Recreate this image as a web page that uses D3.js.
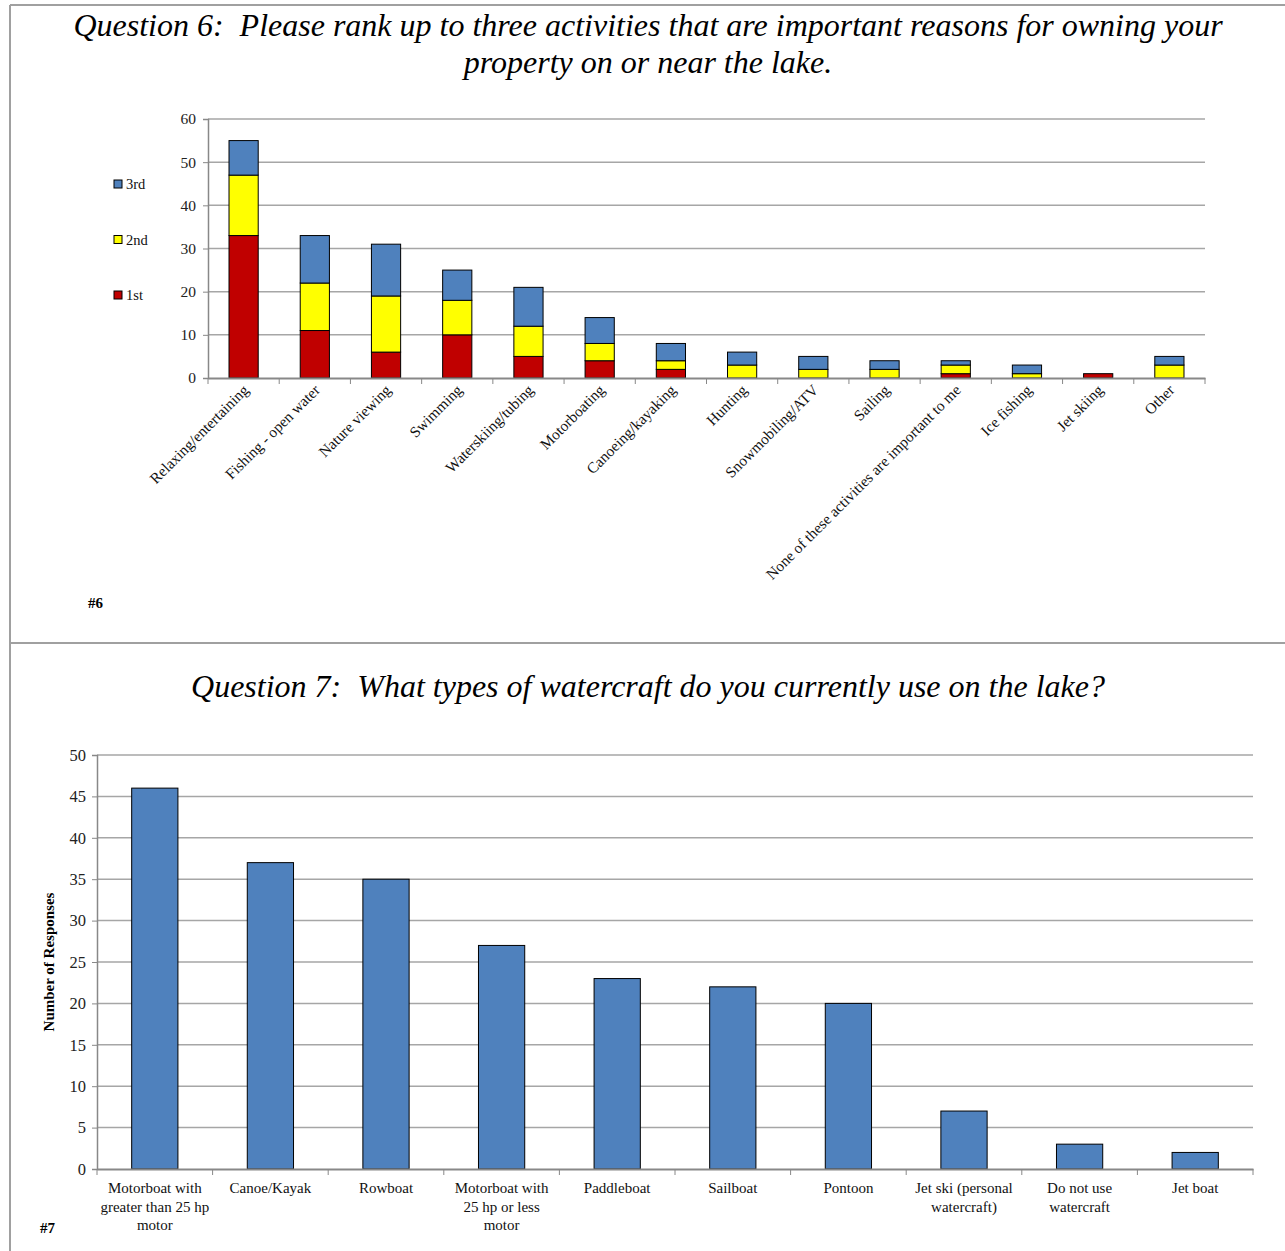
<!DOCTYPE html>
<html>
<head>
<meta charset="utf-8">
<script src="https://cdn.jsdelivr.net/npm/d3@7"></script>
<style>
  body { margin: 0; background: #fff; }
  svg text { font-family: "Liberation Serif", "Times New Roman", serif; white-space: pre; }
</style>
</head>
<body>
<svg id="chart" width="1285" height="1251"></svg>
<script>
// Question 6 - ranked activities (stacked)
const activities = ["Relaxing/entertaining", "Fishing - open water", "Nature viewing", "Swimming",
  "Waterskiing/tubing", "Motorboating", "Canoeing/kayaking", "Hunting", "Snowmobiling/ATV",
  "Sailing", "None of these activities are important to me", "Ice fishing", "Jet skiing", "Other"];
const first = [33, 11, 6, 10, 5, 4, 2, 0, 0, 0, 1, 0, 1, 0];
const second = [14, 11, 13, 8, 7, 4, 2, 3, 2, 2, 2, 1, 0, 3];
const third = [8, 11, 12, 7, 9, 6, 4, 3, 3, 2, 1, 2, 0, 2];
const rankNames = ["1st", "2nd", "3rd"];
const q6Ticks = [0, 10, 20, 30, 40, 50, 60];

// Question 7 - watercraft
const boats = ["Motorboat with\ngreater than 25 hp\nmotor", "Canoe/Kayak", "Rowboat",
  "Motorboat with\n25 hp or less\nmotor", "Paddleboat", "Sailboat", "Pontoon",
  "Jet ski (personal\nwatercraft)", "Do not use\nwatercraft", "Jet boat"];
const boatCounts = [46, 37, 35, 27, 23, 22, 20, 7, 3, 2];
const q7Ticks = [0, 5, 10, 15, 20, 25, 30, 35, 40, 45, 50];

const rankColors = { "1st": "#c00000", "2nd": "#ffff00", "3rd": "#4f81bd" };
const gridColor = "#a6a6a6";

const svg = d3.select("#chart");

// frame lines
svg.append("line").attr("x1", 10).attr("x2", 1285).attr("y1", 5).attr("y2", 5)
  .attr("stroke", "#a0a0a0").attr("stroke-width", 2);
svg.append("line").attr("x1", 10).attr("x2", 10).attr("y1", 5).attr("y2", 1251)
  .attr("stroke", "#a0a0a0").attr("stroke-width", 2);
svg.append("line").attr("x1", 10).attr("x2", 1285).attr("y1", 643).attr("y2", 643)
  .attr("stroke", "#a0a0a0").attr("stroke-width", 2);

// ---------- chart 6 ----------
svg.append("text").attr("x", 648).attr("y", 36).attr("text-anchor", "middle")
  .attr("font-size", 32).attr("font-style", "italic")
  .text("Question 6:  Please rank up to three activities that are important reasons for owning your");
svg.append("text").attr("x", 648).attr("y", 73).attr("text-anchor", "middle")
  .attr("font-size", 32).attr("font-style", "italic")
  .text("property on or near the lake.");

const x6 = d3.scaleBand().domain(activities).range([208, 1205]);
const y6 = d3.scaleLinear().domain([0, 60]).range([378, 119]);

const g6 = svg.append("g");
g6.selectAll(".grid6").data(q6Ticks.slice(1)).enter().append("line")
  .attr("x1", 208).attr("x2", 1205)
  .attr("y1", d => y6(d)).attr("y2", d => y6(d))
  .attr("stroke", gridColor).attr("stroke-width", 1.5);

const stackData = activities.map((a, i) => ({ name: a, "1st": first[i], "2nd": second[i], "3rd": third[i] }));
const series = d3.stack().keys(rankNames)(stackData);
const bw6 = x6.bandwidth() * 0.41;
g6.selectAll(".layer").data(series).enter().append("g")
  .attr("fill", d => rankColors[d.key])
  .selectAll("rect").data(d => d.filter(p => p[1] > p[0])).enter().append("rect")
  .attr("x", d => x6(d.data.name) + (x6.bandwidth() - bw6) / 2)
  .attr("width", bw6)
  .attr("y", d => y6(d[1]))
  .attr("height", d => y6(d[0]) - y6(d[1]))
  .attr("stroke", "#000").attr("stroke-width", 1);

const yAxis6 = g6.append("g").attr("transform", "translate(208,0)")
  .call(d3.axisLeft(y6).tickValues(q6Ticks).tickSize(5).tickPadding(7));
yAxis6.select(".domain").attr("stroke", "#888").attr("stroke-width", 1.5);
yAxis6.selectAll(".tick line").attr("stroke", "#888");
yAxis6.selectAll("text").attr("font-family", "Liberation Serif").attr("font-size", 15.5).attr("fill", "#222");

const xAxis6 = g6.append("g").attr("transform", "translate(0,378)")
  .call(d3.axisBottom(x6).tickSize(0).tickFormat(""));
xAxis6.select(".domain").attr("stroke", "#888").attr("stroke-width", 2);
g6.selectAll(".xtick6").data(activities.concat([null])).enter().append("line")
  .attr("x1", (d, i) => i < activities.length ? x6(d) : x6.range()[1])
  .attr("x2", (d, i) => i < activities.length ? x6(d) : x6.range()[1])
  .attr("y1", 378).attr("y2", 384).attr("stroke", "#888");
g6.selectAll(".xlab6").data(activities).enter().append("text")
  .attr("transform", d => `translate(${x6(d) + x6.bandwidth() / 2 + 6},${391}) rotate(-45)`)
  .attr("text-anchor", "end").attr("font-size", 15.3).attr("fill", "#111")
  .text(d => d);

// legend
const legend = g6.selectAll(".leg").data(rankNames.slice().reverse()).enter().append("g")
  .attr("transform", (d, i) => `translate(114,${180 + i * 55.5})`);
legend.append("rect").attr("width", 8).attr("height", 8)
  .attr("fill", d => rankColors[d]).attr("stroke", "#000").attr("stroke-width", 1);
legend.append("text").attr("x", 12).attr("y", 9).attr("font-size", 14.5).attr("fill", "#111").text(d => d);

svg.append("text").attr("x", 88).attr("y", 608).attr("font-size", 15).attr("font-weight", "bold").text("#6");

// ---------- chart 7 ----------
svg.append("text").attr("x", 648).attr("y", 697).attr("text-anchor", "middle")
  .attr("font-size", 32).attr("font-style", "italic")
  .text("Question 7:  What types of watercraft do you currently use on the lake?");

const x7 = d3.scaleBand().domain(boats).range([97, 1253]);
const y7 = d3.scaleLinear().domain([0, 50]).range([1169, 755]);
const g7 = svg.append("g");

g7.selectAll(".grid7").data(q7Ticks.slice(1)).enter().append("line")
  .attr("x1", 97).attr("x2", 1253)
  .attr("y1", d => y7(d)).attr("y2", d => y7(d))
  .attr("stroke", gridColor).attr("stroke-width", 1.5);

const bw7 = x7.bandwidth() * 0.4;
g7.selectAll(".bar7").data(boats).enter().append("rect")
  .attr("x", d => x7(d) + (x7.bandwidth() - bw7) / 2)
  .attr("width", bw7)
  .attr("y", (d, i) => y7(boatCounts[i]))
  .attr("height", (d, i) => y7(0) - y7(boatCounts[i]))
  .attr("fill", "#4f81bd").attr("stroke", "#000").attr("stroke-width", 1);

const yAxis7 = g7.append("g").attr("transform", "translate(97,0)")
  .call(d3.axisLeft(y7).tickValues(q7Ticks).tickSize(5).tickPadding(6));
yAxis7.select(".domain").attr("stroke", "#888").attr("stroke-width", 1.5);
yAxis7.selectAll(".tick line").attr("stroke", "#888");
yAxis7.selectAll("text").attr("font-family", "Liberation Serif").attr("font-size", 16.5).attr("fill", "#222");

const xAxis7 = g7.append("g").attr("transform", "translate(0,1169)")
  .call(d3.axisBottom(x7).tickSize(0).tickFormat(""));
xAxis7.select(".domain").attr("stroke", "#888").attr("stroke-width", 2);
g7.selectAll(".xtick7").data(boats.concat([null])).enter().append("line")
  .attr("x1", (d, i) => i < boats.length ? x7(d) : x7.range()[1])
  .attr("x2", (d, i) => i < boats.length ? x7(d) : x7.range()[1])
  .attr("y1", 1169).attr("y2", 1175).attr("stroke", "#888");

const lab7 = g7.selectAll(".xlab7").data(boats).enter().append("text")
  .attr("text-anchor", "middle").attr("font-size", 15).attr("fill", "#111");
lab7.selectAll("tspan").data(d => d.split("\n").map(t => ({ t, c: d }))).enter().append("tspan")
  .attr("x", d => x7(d.c) + x7.bandwidth() / 2)
  .attr("y", (d, i) => 1193 + i * 18.5)
  .text(d => d.t);

svg.append("text").attr("transform", "translate(54,962) rotate(-90)")
  .attr("text-anchor", "middle").attr("font-size", 15).attr("font-weight", "bold")
  .text("Number of Responses");

svg.append("text").attr("x", 40).attr("y", 1233).attr("font-size", 15).attr("font-weight", "bold").text("#7");
</script>
</body>
</html>
